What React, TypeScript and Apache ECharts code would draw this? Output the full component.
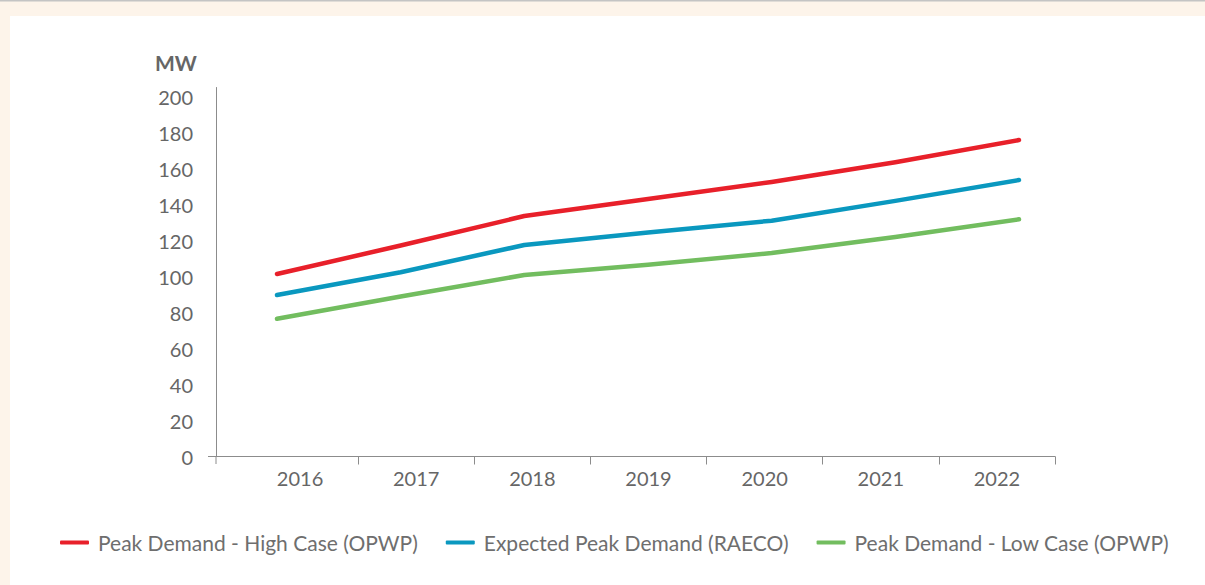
import React, { useEffect, useRef } from "react";
import * as echarts from "echarts";

const years = ["2016", "2017", "2018", "2019", "2020", "2021", "2022"];
const highCase = [101.4, 117.2, 133.6, 143, 152.5, 163.5, 175.8];
const expected = [89.7, 102.4, 117.5, 124.5, 131, 142, 153.6];
const lowCase = [76.5, 88.9, 100.8, 106.5, 113, 122, 131.8];
const seriesNames = [
  "Peak Demand - High Case (OPWP)",
  "Expected Peak Demand (RAECO)",
  "Peak Demand - Low Case (OPWP)",
];
const colors = ["#E8202A", "#0A98BF", "#72BD5F"];

const FONT = "Lato, 'Noto Sans', sans-serif";
const GRAY = "#666666";
const AXIS = "#8C8C8C";

export default function App() {
  const ref = useRef<HTMLDivElement>(null);
  useEffect(() => {
    if (!ref.current) return;
    const chart = echarts.init(ref.current, null, { renderer: "svg" });
    const top = 87.5;
    const bottom = 128.5;
    const lineSeries = [highCase, expected, lowCase].map((d, i) => ({
      name: seriesNames[i],
      type: "line",
      xAxisIndex: 1,
      yAxisIndex: 1,
      data: d,
      symbol: "none",
      lineStyle: { color: colors[i], width: 4.5, cap: "round", join: "round" },
      itemStyle: { color: colors[i] },
      z: 3,
    }));
    chart.setOption({
      animation: false,
      backgroundColor: "#ffffff",
      textStyle: { fontFamily: FONT },
      title: {
        text: "MW",
        left: 150,
        top: 47,
        textStyle: { fontFamily: FONT, fontSize: 21, fontWeight: "bold", color: GRAY },
      },
      graphic: [
        { type: "rect", shape: { x: 0, y: 0, width: 1205, height: 16 }, style: { fill: "#FDF4EA" }, z: -1 },
        { type: "rect", shape: { x: 0, y: 0, width: 10, height: 585 }, style: { fill: "#FDF4EA" }, z: -1 },
        { type: "rect", shape: { x: 0, y: 0, width: 1205, height: 1.5 }, style: { fill: "#C4C4C4" }, z: -1 },
        { type: "line", shape: { x1: 208, y1: 456.5, x2: 242, y2: 456.5 }, style: { stroke: AXIS, lineWidth: 1 } },
        { type: "line", shape: { x1: 216, y1: 456.5, x2: 216, y2: 464 }, style: { stroke: AXIS, lineWidth: 1 } },
      ],
      legend: {
        data: seriesNames,
        left: 55,
        top: 527,
        itemWidth: 29,
        itemHeight: 4,
        itemGap: 28,
        icon: "roundRect",
        textStyle: { fontFamily: FONT, fontSize: 21, color: "#6E6E6E", padding: [0, 0, 0, 4] },
      },
      grid: [
        { left: 242, right: 150, top, bottom },
        { left: 277, right: 186, top, bottom },
      ],
      xAxis: [
        {
          type: "category",
          gridIndex: 0,
          data: years,
          boundaryGap: true,
          axisLine: { lineStyle: { color: AXIS, width: 1 } },
          axisTick: {
            show: true,
            length: 8,
            lineStyle: { color: AXIS },
            interval: (i: number) => i !== 0,
          },
          axisLabel: { color: GRAY, fontSize: 20, fontFamily: FONT, margin: 11 },
        },
        {
          type: "category",
          gridIndex: 1,
          data: years,
          boundaryGap: false,
          show: false,
        },
      ],
      yAxis: [
        {
          type: "value",
          gridIndex: 0,
          min: 0,
          max: 205,
          interval: 20,
          offset: 26,
          axisLine: { show: true, lineStyle: { color: AXIS, width: 1 } },
          axisTick: { show: false },
          splitLine: { show: false },
          axisLabel: { color: GRAY, fontSize: 20, fontFamily: FONT, margin: 23, showMaxLabel: false },
        },
        {
          type: "value",
          gridIndex: 1,
          min: 0,
          max: 205,
          show: false,
          splitLine: { show: false },
        },
      ],
      series: lineSeries,
    });
    return () => chart.dispose();
  }, []);
  return (
    <div
      ref={ref}
      style={{ position: "fixed", left: 0, top: 0, width: 1205, height: 585 }}
    />
  );
}
